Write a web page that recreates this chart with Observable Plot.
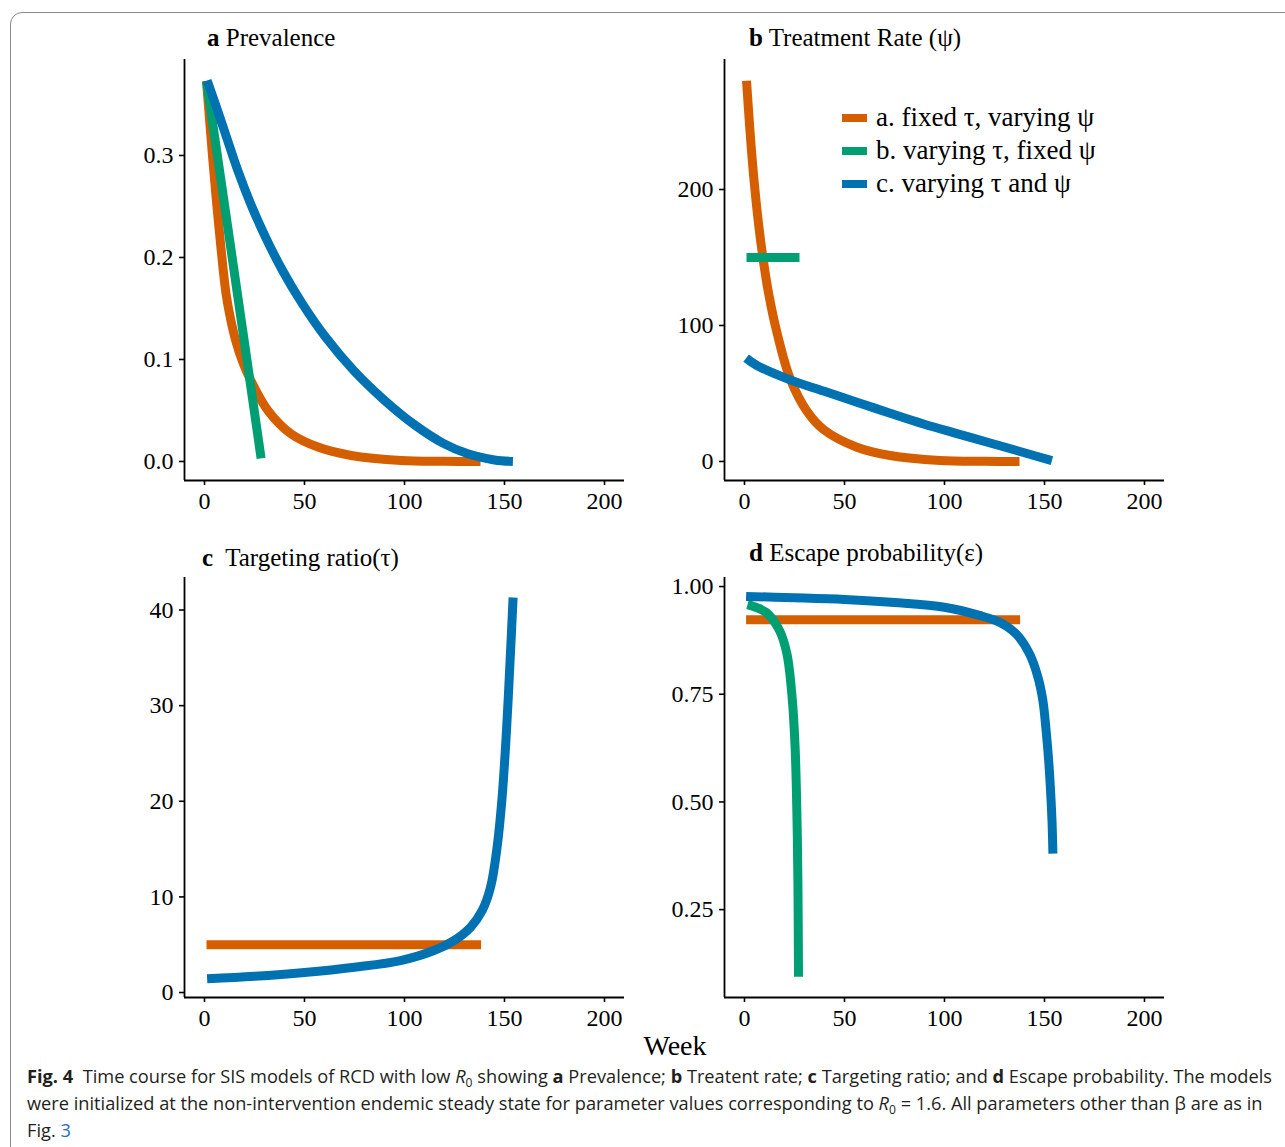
<!DOCTYPE html>
<html><head><meta charset="utf-8">
<script src="https://cdn.jsdelivr.net/npm/d3@7"></script>
<script src="https://cdn.jsdelivr.net/npm/@observablehq/plot@0.6"></script>
<style>
body{margin:0;width:1285px;height:1147px;overflow:hidden;background:#fff;position:relative;font-family:"Liberation Serif","Times New Roman",serif;}
#frame{position:absolute;left:10px;top:12px;width:1300px;height:1200px;border:1px solid #8a8a8a;border-radius:12px;}
.panel{position:absolute;}
.panel svg{overflow:visible;}
.panel svg g[aria-label$="tick"] path{stroke-width:1.6;}
.title{position:absolute;font-size:25px;white-space:nowrap;color:#000;line-height:1;}
.legend{position:absolute;left:842px;top:101px;font-size:27px;color:#000;}
.legend .row{height:33px;display:flex;align-items:center;white-space:nowrap;}
.legend .sw{display:inline-block;width:25px;height:8px;margin-right:9px;}
#week{position:absolute;left:0;width:1350px;text-align:center;top:1030px;font-size:28px;color:#000;}
#caption{position:absolute;left:27px;top:1063px;font-family:"Open Sans","Noto Sans",sans-serif;font-size:18px;color:#231f20;}
#caption .ln{white-space:nowrap;transform-origin:0 0;display:block;height:27px;line-height:27px;}
#caption .sub{font-size:12px;position:relative;top:4px;}
#caption a{color:#2a6ebb;text-decoration:none;}
</style></head>
<body>
<div id="frame"></div>
<div class="title" style="left:207px;top:25px;"><b>a</b> Prevalence</div>
<div class="title" style="left:749px;top:25px;"><b>b</b> Treatment Rate (ψ)</div>
<div class="title" style="left:202px;top:545px;"><b>c</b>&nbsp; Targeting ratio(τ)</div>
<div class="title" style="left:749px;top:540px;"><b>d</b> Escape probability(ε)</div>
<div class="legend" id="legend"></div>
<div id="pa" class="panel" style="left:114px;top:49px;"></div>
<div id="pb" class="panel" style="left:654px;top:49px;"></div>
<div id="pc" class="panel" style="left:114px;top:567px;"></div>
<div id="pd" class="panel" style="left:654px;top:567px;"></div>
<div id="week">Week</div>
<div id="caption">
<span class="ln" id="l1"><b>Fig. 4</b>&nbsp; Time course for SIS models of RCD with low <i>R</i><span class="sub">0</span> showing <b>a</b> Prevalence; <b>b</b> Treatent rate; <b>c</b> Targeting ratio; and <b>d</b> Escape probability. The models</span>
<span class="ln" id="l2">were initialized at the non-intervention endemic steady state for parameter values corresponding to <i>R</i><span class="sub">0</span> = 1.6. All parameters other than β are as in</span>
<span class="ln" id="l3">Fig. <a>3</a></span>
</div>
<script>
// ---- series names and colours ----
const seriesNames = ["a. fixed τ, varying ψ", "b. varying τ, fixed ψ", "c. varying τ and ψ"];
const seriesColors = ["#D55E00", "#009E73", "#0072B2"];

// ---- x axis (Week) ----
const weekTicks = [0, 50, 100, 150, 200];

// ---- Panel a: Prevalence ----
const prevA_w = [1, 4.2, 7.2, 10.8, 13, 15.8, 19, 22.5, 31.7, 43.3, 56.7, 73.3, 98.3, 120, 138];
const prevA_v = [0.373, 0.295, 0.230, 0.164, 0.140, 0.117, 0.098, 0.082, 0.050, 0.027, 0.0141, 0.0059, 0.001, 0.0002, 0.0];
const prevB_w = [1, 14.2, 28.3];
const prevB_v = [0.373, 0.195, 0.003];
const prevC_w = [1.3, 5.5, 11, 16.7, 23, 30.5, 38.8, 48.8, 60.5, 74.7, 90, 105, 119.2, 131.7, 145, 154.2];
const prevC_v = [0.3735, 0.350, 0.318, 0.285, 0.253, 0.220, 0.188, 0.155, 0.122, 0.089, 0.060, 0.036, 0.018, 0.0075, 0.0015, 0.0];
const prevTicks = [0, 0.1, 0.2, 0.3];

// ---- Panel b: Treatment rate (psi) ----
const psiA_w = [1, 3, 5, 7, 9.2, 12, 16.2, 22.8, 31.2, 39.5, 56.2, 72.8, 97.8, 120, 137.5];
const psiA_v = [280, 238, 203, 175, 150, 124, 95, 61, 37, 23.5, 10.5, 4.4, 0.7, 0.1, 0];
const psiB_w = [1, 27.5];
const psiB_v = [150, 150];
const psiC_w = [0.8, 6.2, 22.8, 39.5, 56.2, 72.8, 89.5, 106.2, 122.8, 139.5, 153.7];
const psiC_v = [76, 70.6, 60, 51.8, 43.6, 35.5, 27.6, 20.5, 13.6, 6.6, 0.6];
const psiTicks = [0, 100, 200];

// ---- Panel c: Targeting ratio (tau) ----
const tauA_w = [1, 138.3];
const tauA_v = [5, 5];
const tauC_w = [1.3, 25, 50, 75, 98, 114.7, 124.7, 133, 138.8, 143, 146.3, 148.8, 151, 152.7, 154.3];
const tauC_v = [1.43, 1.7, 2.1, 2.65, 3.34, 4.39, 5.43, 6.82, 8.56, 11.0, 15.2, 20.4, 27.4, 34.3, 41.3];
const tauTicks = [0, 10, 20, 30, 40];

// ---- Panel d: Escape probability (epsilon) ----
const epsA_w = [0.8, 137.8];
const epsA_v = [0.923, 0.923];
const epsB_w = [1.5, 10.8, 17.5, 21.2, 23.8, 25.3, 26.2, 26.7, 27];
const epsB_v = [0.958, 0.940, 0.898, 0.844, 0.743, 0.627, 0.473, 0.318, 0.094];
const epsC_w = [0.8, 25, 50, 75, 100, 117.5, 127.5, 135.8, 142.5, 146.7, 149.2, 150.8, 152.2, 153.2, 153.8, 154.2];
const epsC_v = [0.977, 0.974, 0.970, 0.963, 0.952, 0.933, 0.917, 0.890, 0.844, 0.790, 0.735, 0.666, 0.589, 0.511, 0.450, 0.38];
const epsTicks = [0.25, 0.5, 0.75, 1.0];

const toRows = (ws, vs) => ws.map((w, i) => ({w, v: vs[i]}));

function panel(el, {series, yDomain, yTicks, yFmt, plotH}) {
  const xDomain = [-10, 210];
  const marks = [];
  for (const s of series) {
    marks.push(Plot.line(toRows(s.w, s.v), {x: "w", y: "v", stroke: seriesColors[s.k], strokeWidth: 9, curve: "catmull-rom", strokeLinecap: "butt", strokeLinejoin: "round"}));
  }
  marks.push(Plot.ruleX([xDomain[0]], {stroke: "black", strokeWidth: 1.8}));
  marks.push(Plot.ruleY([yDomain[0]], {stroke: "black", strokeWidth: 1.8}));
  const p = Plot.plot({
    width: 520, height: 10 + plotH + 45,
    marginLeft: 70, marginRight: 10, marginTop: 10, marginBottom: 45,
    style: {fontFamily: "Liberation Serif, Times New Roman, serif", fontSize: "24px", color: "black", background: "transparent", overflow: "visible"},
    x: {domain: xDomain, ticks: weekTicks, tickSize: 5, tickPadding: 6, tickFormat: d => String(d), label: null},
    y: {domain: yDomain, ticks: yTicks, tickSize: 5, tickPadding: 6, tickFormat: yFmt, label: null},
    marks
  });
  document.getElementById(el).appendChild(p);
}

panel("pa", {
  series: [{k: 0, w: prevA_w, v: prevA_v}, {k: 1, w: prevB_w, v: prevB_v}, {k: 2, w: prevC_w, v: prevC_v}],
  yDomain: [-0.01865, 0.3941], yTicks: prevTicks, yFmt: d3.format(".1f"), plotH: 421
});
panel("pb", {
  series: [{k: 0, w: psiA_w, v: psiA_v}, {k: 1, w: psiB_w, v: psiB_v}, {k: 2, w: psiC_w, v: psiC_v}],
  yDomain: [-14, 295.6], yTicks: psiTicks, yFmt: d3.format("d"), plotH: 421
});
panel("pc", {
  series: [{k: 0, w: tauA_w, v: tauA_v}, {k: 2, w: tauC_w, v: tauC_v}],
  yDomain: [-0.52, 43.4], yTicks: tauTicks, yFmt: d3.format("d"), plotH: 420
});
panel("pd", {
  series: [{k: 0, w: epsA_w, v: epsA_v}, {k: 1, w: epsB_w, v: epsB_v}, {k: 2, w: epsC_w, v: epsC_v}],
  yDomain: [0.046, 1.021], yTicks: epsTicks, yFmt: d3.format(".2f"), plotH: 420
});

// legend
const lg = document.getElementById("legend");
seriesNames.forEach((n, i) => {
  const r = document.createElement("div"); r.className = "row";
  r.innerHTML = `<span class="sw" style="background:${seriesColors[i]}"></span><span>${n}</span>`;
  lg.appendChild(r);
});

// fit caption line widths
const l1 = document.getElementById("l1");
const range = document.createRange(); range.selectNodeContents(l1);
const tw = range.getBoundingClientRect().width;
const sc = 1245 / tw;
document.querySelectorAll("#caption .ln").forEach(e => e.style.transform = `scaleX(${sc})`);
</script>
</body></html>
